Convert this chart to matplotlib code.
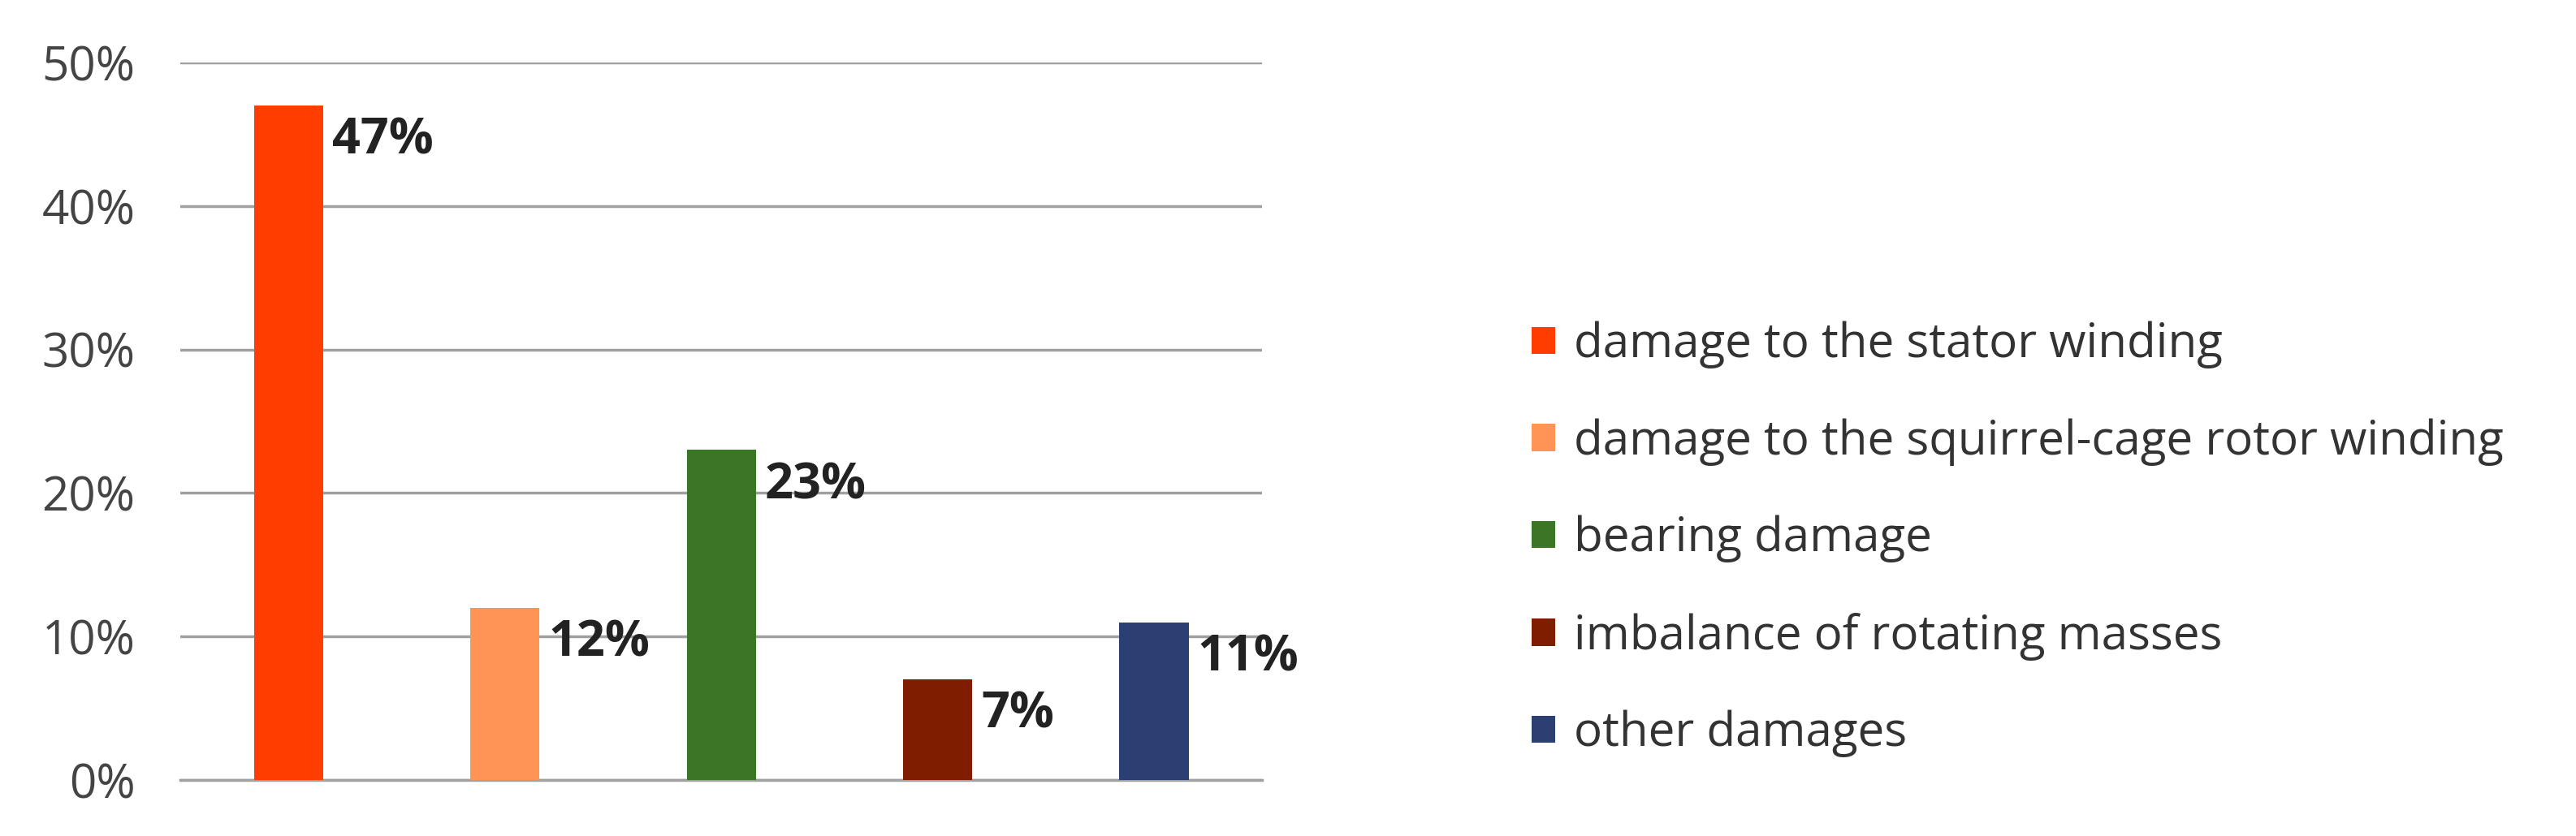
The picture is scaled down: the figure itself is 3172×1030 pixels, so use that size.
import matplotlib.pyplot as plt
from matplotlib.patches import Patch

plt.rcParams['font.family'] = ['Open Sans', 'DejaVu Sans']

categories = ["damage to the stator winding",
              "damage to the squirrel-cage rotor winding",
              "bearing damage",
              "imbalance of rotating masses",
              "other damages"]
values = [47, 12, 23, 7, 11]
colors = ["#FF3D00", "#FF9455", "#3B7526", "#7F1D00", "#2C3F72"]
yticks = [0, 10, 20, 30, 40, 50]

fig = plt.figure(figsize=(31.72, 10.30), dpi=100)
ax = fig.add_axes([0.070, 0.067, 0.420, 0.858])

x = list(range(len(values)))
ax.bar(x, [v / 100 for v in values], width=0.32, color=colors, zorder=3)
for xi, v in zip(x, values):
    ax.text(xi + 0.2, v / 100 - 0.025, f"{v}%", ha="left", va="center",
            fontsize=44, fontweight="bold", color="#222222")

ax.set_xlim(-0.5, 4.5)
ax.set_ylim(0, 0.5)
ax.set_yticks([t / 100 for t in yticks])
ax.set_yticklabels([f"{t}%" for t in yticks], fontsize=42, color="#444444")
ax.set_xticks([])
ax.yaxis.grid(True, color="#A0A0A0", linewidth=2.5, zorder=0)
for s in ["top", "right", "left"]:
    ax.spines[s].set_visible(False)
ax.spines["bottom"].set_color("#A0A0A0")
ax.spines["bottom"].set_linewidth(2.5)
ax.tick_params(axis="y", length=0, pad=40)

handles = [Patch(facecolor=c) for c in colors]
fig.legend(handles, categories, loc="center left", bbox_to_anchor=(0.578, 0.355),
           frameon=False, fontsize=42, handlelength=0.5, handleheight=0.5,
           labelspacing=1.05, handletextpad=0.4, labelcolor="#333333")

fig.savefig("out.png")
